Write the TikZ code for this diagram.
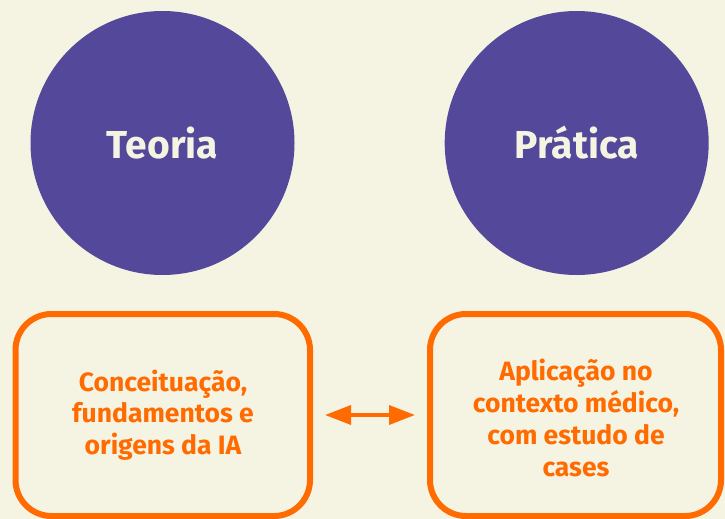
\documentclass[tikz,border=0pt]{standalone}
\usepackage{fontspec}
\setmainfont{Fira Sans}[UprightFont=* Bold, BoldFont=* Bold]
\usetikzlibrary{arrows.meta}
\definecolor{bg}{HTML}{F5F4E2}
\definecolor{purp}{HTML}{54489A}
\definecolor{orng}{HTML}{FF6B00}
\tikzset{
  bigcirc/.style={circle, fill=purp, minimum size=264pt, inner sep=0pt, text=bg, font=\fontsize{39}{42}\selectfont},
  obox/.style={draw=orng, line width=6pt, rounded corners=36pt},
  otext/.style={text=orng, align=center, font=\fontsize{26.5}{31.7}\selectfont, inner sep=0pt},
  dblarrow/.style={draw=orng, line width=3.5pt, {Triangle[length=26pt,width=19pt]}-{Triangle[length=26pt,width=19pt]}}
}
\begin{document}
\begin{tikzpicture}[x=1pt,y=-1pt]
\fill[bg] (0,0) rectangle (725,519);
\useasboundingbox (0,0) rectangle (725,519);
\node[bigcirc] (teoria) at (162.5,143) {Teoria};
\node[bigcirc] (pratica) at (576.7,143) {Prática};
\draw[obox] (15.5,314) rectangle (310,516);
\node[otext] (lt) at (163,415) {Conceituação,\\fundamentos e\\origens da IA};
\draw[obox] (430,314) rectangle (721,516);
\node[otext] (rt) at (576,418) {Aplicação no\\contexto médico,\\com estudo de\\cases};
\coordinate (al) at (325,415);
\coordinate (ar) at (415,415);
\draw[dblarrow] (al) -- (ar);
\end{tikzpicture}
\end{document}
